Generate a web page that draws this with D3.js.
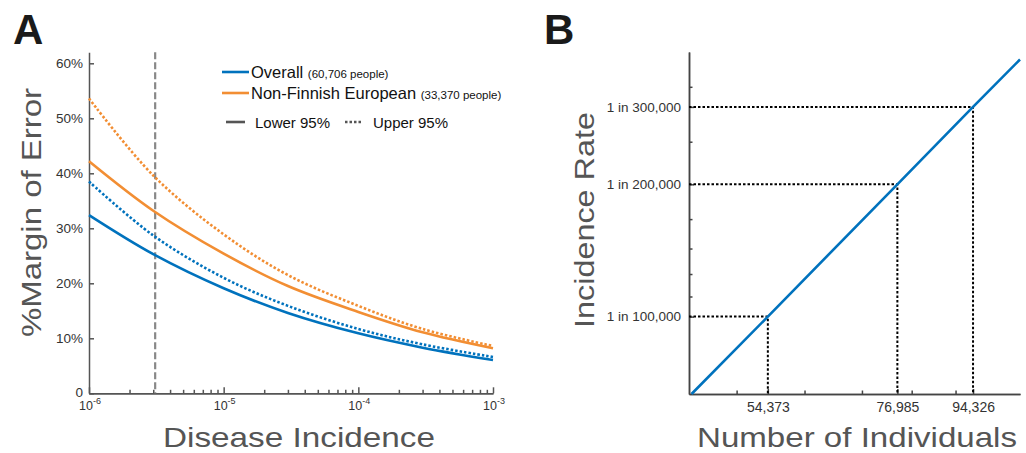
<!DOCTYPE html>
<html>
<head>
<meta charset="utf-8">
<script src="https://cdn.jsdelivr.net/npm/d3@7"></script>
<style>
  body { margin: 0; background: #fff; }
  svg { display: block; font-family: 'Liberation Sans', Arial, sans-serif; }
  .axis path, .axis line { stroke: #555; stroke-width: 1.5; }
  .axis text { fill: #333; font-size: 13.5px; font-family: 'Liberation Sans', Arial, sans-serif; }
  .title { fill: #555; }
</style>
</head>
<body>
<svg id="fig" width="1026" height="453"></svg>
<script>
"use strict";

// panel A: margin of error vs disease incidence
var incidence = [1e-6, 3e-6, 1e-5, 3e-5, 1e-4, 3e-4, 1e-3];
var overallLower = [32.4, 25.3, 19.1, 14.6, 10.9, 8.3, 6.05];
var overallUpper = [38.5, 28.7, 21.0, 15.9, 11.7, 8.9, 6.6];
var nfeLower = [42.2, 33.2, 25.4, 19.5, 14.8, 11.1, 8.2];
var nfeUpper = [53.6, 39.6, 28.9, 21.5, 15.9, 11.7, 8.6];
var threshold = 3.1e-6;
var pctTicks = [0, 10, 20, 30, 40, 50, 60];
var decadeTicks = [1e-6, 1e-5, 1e-4, 1e-3];
var decadeLabels = ['-6', '-5', '-4', '-3'];

// panel B: individuals needed vs incidence rate
var individuals = [44300, 54373, 76985, 94326, 107000];
var rate = [1.5e-5, 1e-5, 5e-6, 1 / 300000, 2.6e-6];
var markedN = [54373, 76985, 94326];
var markedRate = [1e-5, 5e-6, 1 / 300000];
var rateLabels = ['1 in 100,000', '1 in 200,000', '1 in 300,000'];
var nLabels = ['54,373', '76,985', '94,326'];
var rateMinor = [3e-6, 4e-6, 6e-6, 7e-6, 8e-6, 9e-6];
var nMinor = [50000, 60000, 70000, 80000, 90000];

var BLUE = '#0072bd';
var ORANGE = '#f28e33';

var svg = d3.select('#fig');

function _panel_a() {
  var X = d3.scaleLog().domain([1e-6, 1e-3]).range([89, 493]);
  var Y = d3.scaleLinear().domain([0, 62]).range([393.3, 52.3]);

  var minor = [];
  decadeTicks.slice(0, 3).forEach(function (d) {
    for (var k = 2; k < 10; k++) minor.push(d * k);
  });

  svg.append('g')
    .attr('class', 'axis')
    .attr('transform', 'translate(0,' + Y(0) + ')')
    .call(d3.axisBottom(X).tickValues(minor).tickSize(-3.5).tickSizeOuter(0).tickFormat(''));
  svg.append('g')
    .attr('class', 'axis')
    .attr('transform', 'translate(0,' + Y(0) + ')')
    .call(d3.axisBottom(X).tickValues(decadeTicks).tickSize(-6).tickSizeOuter(0).tickFormat(''));
  svg.append('g')
    .attr('class', 'axis')
    .attr('transform', 'translate(' + X(1e-6) + ',0)')
    .call(d3.axisLeft(Y).tickValues(pctTicks).tickSize(-5).tickSizeOuter(0).tickPadding(6)
      .tickFormat(function (d) { return d === 0 ? '0' : d + '%'; }))
    .selectAll('text')
    .attr('dy', function (d) { return d === 0 ? '0.2em' : '0.32em'; });

  // exponent labels under the decades
  var lab = svg.append('g').attr('class', 'axis');
  decadeTicks.forEach(function (d, i) {
    var t = lab.append('text')
      .attr('x', X(d) + 1)
      .attr('y', 410)
      .attr('text-anchor', 'middle')
      .style('font-size', '12.5px');
    t.append('tspan').text('10');
    t.append('tspan').attr('font-size', '9px').attr('dy', -6).text(decadeLabels[i]);
  });

  svg.append('line')
    .attr('x1', X(threshold)).attr('x2', X(threshold))
    .attr('y1', Y(62)).attr('y2', Y(0))
    .attr('stroke', '#888')
    .attr('stroke-width', 2.2)
    .attr('stroke-dasharray', '7,3');

  var series = [
    { vals: nfeUpper, color: ORANGE, dash: '2.5,2' },
    { vals: nfeLower, color: ORANGE, dash: null },
    { vals: overallUpper, color: BLUE, dash: '2.5,2' },
    { vals: overallLower, color: BLUE, dash: null }
  ];
  var line = d3.line()
    .x(function (d) { return X(d[0]); })
    .y(function (d) { return Y(d[1]); })
    .curve(d3.curveCatmullRom.alpha(0.5));
  series.forEach(function (s) {
    svg.append('path')
      .datum(d3.zip(incidence, s.vals))
      .attr('fill', 'none')
      .attr('stroke', s.color)
      .attr('stroke-width', 2.6)
      .attr('stroke-dasharray', s.dash)
      .attr('d', line);
  });

  // legend
  var leg = svg.append('g');
  var rows = [
    { color: ORANGE, y: 93, name: 'Non-Finnish European', n: '(33,370 people)' },
    { color: BLUE, y: 72, name: 'Overall', n: '(60,706 people)' }
  ];
  rows.forEach(function (r) {
    leg.append('line')
      .attr('x1', 222).attr('x2', 249).attr('y1', r.y).attr('y2', r.y)
      .attr('stroke', r.color).attr('stroke-width', 2.6);
    var t = leg.append('text')
      .attr('x', 251).attr('y', r.y + 6)
      .attr('fill', '#111')
      .attr('font-size', '16.5px');
    t.append('tspan').text(r.name + ' ');
    t.append('tspan').attr('font-size', '11.5px').text(r.n);
  });
  leg.append('line')
    .attr('x1', 226).attr('x2', 245).attr('y1', 122).attr('y2', 122)
    .attr('stroke', '#555').attr('stroke-width', 2.6);
  leg.append('text')
    .attr('x', 255).attr('y', 127.5).attr('font-size', '15px').attr('fill', '#111')
    .text('Lower 95%');
  leg.append('line')
    .attr('x1', 345).attr('x2', 362).attr('y1', 122).attr('y2', 122)
    .attr('stroke', '#555').attr('stroke-width', 2.6).attr('stroke-dasharray', '2.5,2');
  leg.append('text')
    .attr('x', 373).attr('y', 127.5).attr('font-size', '15px').attr('fill', '#111')
    .text('Upper 95%');

  svg.append('text')
    .attr('class', 'title')
    .attr('x', 299).attr('y', 447)
    .attr('text-anchor', 'middle')
    .attr('font-size', '28px')
    .attr('textLength', 272).attr('lengthAdjust', 'spacingAndGlyphs')
    .text('Disease Incidence');
  svg.append('text')
    .attr('class', 'title')
    .attr('transform', 'translate(41,212.5) rotate(-90)')
    .attr('text-anchor', 'middle')
    .attr('font-size', '28px')
    .attr('textLength', 249).attr('lengthAdjust', 'spacingAndGlyphs')
    .text('%Margin of Error');

  svg.append('text')
    .attr('x', 13).attr('y', 43.5)
    .attr('font-size', '42px').attr('font-weight', 'bold').attr('fill', '#1a1a1a')
    .text('A');
}

function _panel_b() {
  var X = d3.scaleLog().domain([44000, 107000]).range([689, 1020]);
  var Y = d3.scaleLog().domain([1.5e-5, 2.5e-6]).range([394, 52]);

  svg.append('g')
    .attr('class', 'axis axis-b')
    .attr('transform', 'translate(0,394)')
    .call(d3.axisBottom(X).tickValues(nMinor).tickSize(-3.5).tickSizeOuter(0).tickFormat(''));
  svg.append('g')
    .attr('class', 'axis axis-b')
    .attr('transform', 'translate(0,394)')
    .call(d3.axisBottom(X).tickValues(markedN).tickSize(-5).tickSizeOuter(0).tickPadding(8)
      .tickFormat(function (d, i) { return nLabels[i]; }))
    .selectAll('text').style('font-size', '14px');
  svg.append('g')
    .attr('class', 'axis axis-b')
    .attr('transform', 'translate(689,0)')
    .call(d3.axisLeft(Y).tickValues(rateMinor).tickSize(-3.5).tickSizeOuter(0).tickFormat(''));
  svg.append('g')
    .attr('class', 'axis axis-b')
    .attr('transform', 'translate(689,0)')
    .call(d3.axisLeft(Y).tickValues(markedRate).tickSize(-5).tickSizeOuter(0).tickPadding(8)
      .tickFormat(function (d, i) { return rateLabels[i]; }));
  svg.selectAll('.axis-b path, .axis-b line').style('stroke', '#444');

  // guide lines to the marked points
  markedN.forEach(function (n, i) {
    svg.append('path')
      .attr('d', 'M' + X.range()[0] + ',' + Y(markedRate[i]) +
        'H' + X(n) + 'V' + Y.range()[0])
      .attr('fill', 'none')
      .attr('stroke', '#000')
      .attr('stroke-width', 2)
      .attr('stroke-dasharray', '2.5,2');
  });

  svg.append('path')
    .datum(d3.zip(individuals, rate))
    .attr('fill', 'none')
    .attr('stroke', BLUE)
    .attr('stroke-width', 2.6)
    .attr('d', d3.line()
      .x(function (d) { return X(d[0]); })
      .y(function (d) { return Y(d[1]); }));

  svg.append('text')
    .attr('class', 'title')
    .attr('x', 857).attr('y', 447)
    .attr('text-anchor', 'middle')
    .attr('font-size', '28px')
    .attr('textLength', 320).attr('lengthAdjust', 'spacingAndGlyphs')
    .text('Number of Individuals');
  svg.append('text')
    .attr('class', 'title')
    .attr('transform', 'translate(594,220) rotate(-90)')
    .attr('text-anchor', 'middle')
    .attr('font-size', '28px')
    .attr('textLength', 216).attr('lengthAdjust', 'spacingAndGlyphs')
    .text('Incidence Rate');

  svg.append('text')
    .attr('x', 544).attr('y', 43.5)
    .attr('font-size', '42px').attr('font-weight', 'bold').attr('fill', '#1a1a1a')
    .text('B');
}

_panel_a();
_panel_b();
</script>
</body>
</html>
